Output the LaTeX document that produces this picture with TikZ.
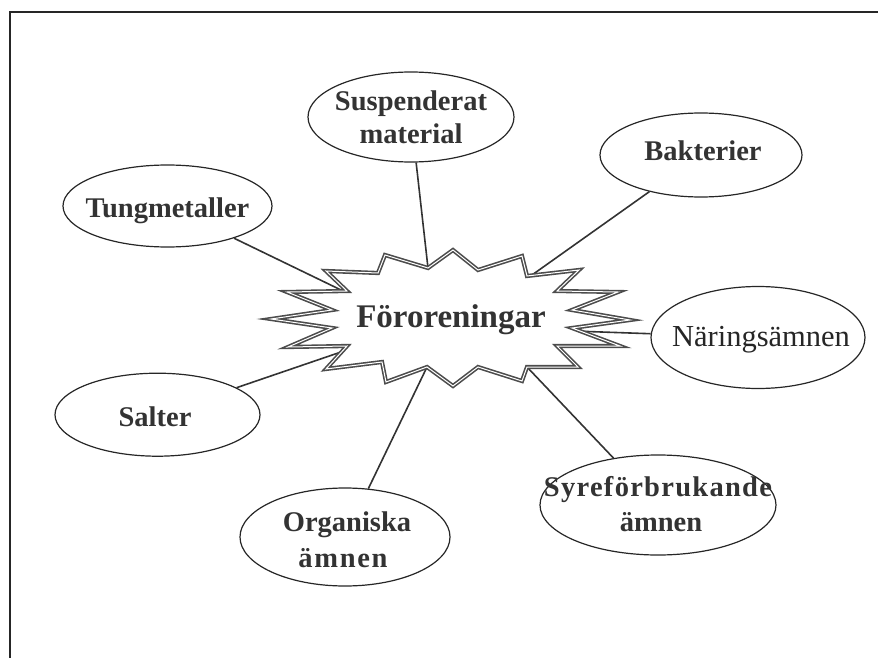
\documentclass[tikz,border=0pt]{standalone}
\usepackage{fontspec}
\setmainfont{Liberation Serif}
\usetikzlibrary{shapes.geometric}
\begin{document}
\begin{tikzpicture}[x=1pt,y=-1pt,
  bubble/.style={ellipse,draw=black!85,line width=1.2pt,fill=white,inner sep=0pt},
  txt/.style={anchor=base,inner sep=0pt,text=black!80,font=\fontsize{28.5}{34}\selectfont\bfseries},
  txtreg/.style={anchor=base,inner sep=0pt,text=black!85,font=\fontsize{30.5}{34}\selectfont},
  bigtxt/.style={anchor=base,inner sep=0pt,text=black!80,font=\fontsize{33}{40}\selectfont\bfseries},
  link/.style={draw=black!80,line width=1.6pt},
  burst/.style={draw=black!70,double=white,double distance=1pt,line width=1.6pt,fill=white,line join=miter},
  frame/.style={draw=black!85,line width=1.4pt}]
\useasboundingbox (0,0) rectangle (878,658);

% frame (open at right and bottom)
\coordinate (f1) at (10,658);
\coordinate (f2) at (10,12);
\coordinate (f3) at (878,12);
\draw[frame] (f1) -- (f2) -- (f3);

% ellipses
\node[bubble,minimum width=206pt,minimum height=90pt] (susp) at (411,117) {};
\node[bubble,minimum width=209pt,minimum height=82pt] (tung) at (167.5,206) {};
\node[bubble,minimum width=202pt,minimum height=84pt] (bakt) at (701,155) {};
\node[bubble,minimum width=214pt,minimum height=102pt] (nar) at (758,337.5) {};
\node[bubble,minimum width=205pt,minimum height=83pt] (salt) at (157.5,414.7) {};
\node[bubble,minimum width=210pt,minimum height=98pt] (org) at (345,537) {};
\node[bubble,minimum width=236pt,minimum height=100pt] (syre) at (658,505) {};

% starburst attachment points
\coordinate (aT) at (341,290);
\coordinate (aS) at (428,268);
\coordinate (aB) at (532,275);
\coordinate (aN) at (573,331);
\coordinate (aY) at (527,367);
\coordinate (aO) at (427,367);
\coordinate (aL) at (341,352);

% connectors
\draw[link] (tung) -- (aT);
\draw[link] (susp) -- (aS);
\draw[link] (bakt) -- (aB);
\draw[link] (nar) -- (aN);
\draw[link] (syre) -- (aY);
\draw[link] (org) -- (aO);
\draw[link] (salt) -- (aL);

% starburst
\draw[burst] (271,319) -- (332,310) -- (287,292) -- (347,291) -- (326,271)
  -- (378,273) -- (385,255) -- (428,268) -- (453,250) -- (478,270)
  -- (522,256) -- (527,276) -- (579,270) -- (557,291) -- (618,292)
  -- (572,310) -- (630,320) -- (572,328) -- (620,346) -- (557,346)
  -- (578,367) -- (527,367) -- (522,381) -- (478,367) -- (453,386)
  -- (427,367) -- (386,382) -- (382,362) -- (326,369) -- (347,346)
  -- (288,347) -- (332,328) -- cycle;

% texts
\node[bigtxt] (fo) at (451,327) {Föroreningar};
\node[txt] (tsusp1) at (411,110.7) {Suspenderat};
\node[txt] (tsusp2) at (411,144) {material};
\node[txt] (ttung) at (167.5,217) {Tungmetaller};
\node[txt] (tbakt) at (703,160.7) {Bakterier};
\node[txtreg] (tnar) at (761,346.7) {Näringsämnen};
\node[txt] (tsalt) at (155,426.7) {Salter};
\node[txt] (torg1) at (347,531.7) {Organiska};
\node[txt] (torg2) at (343,567.3) {\addfontfeatures{LetterSpace=6}ämnen};
\node[txt] (tsyre1) at (658,496.7) {\addfontfeatures{LetterSpace=4.5}Syreförbrukande};
\node[txt] (tsyre2) at (661,531.7) {ämnen};
\end{tikzpicture}
\end{document}
